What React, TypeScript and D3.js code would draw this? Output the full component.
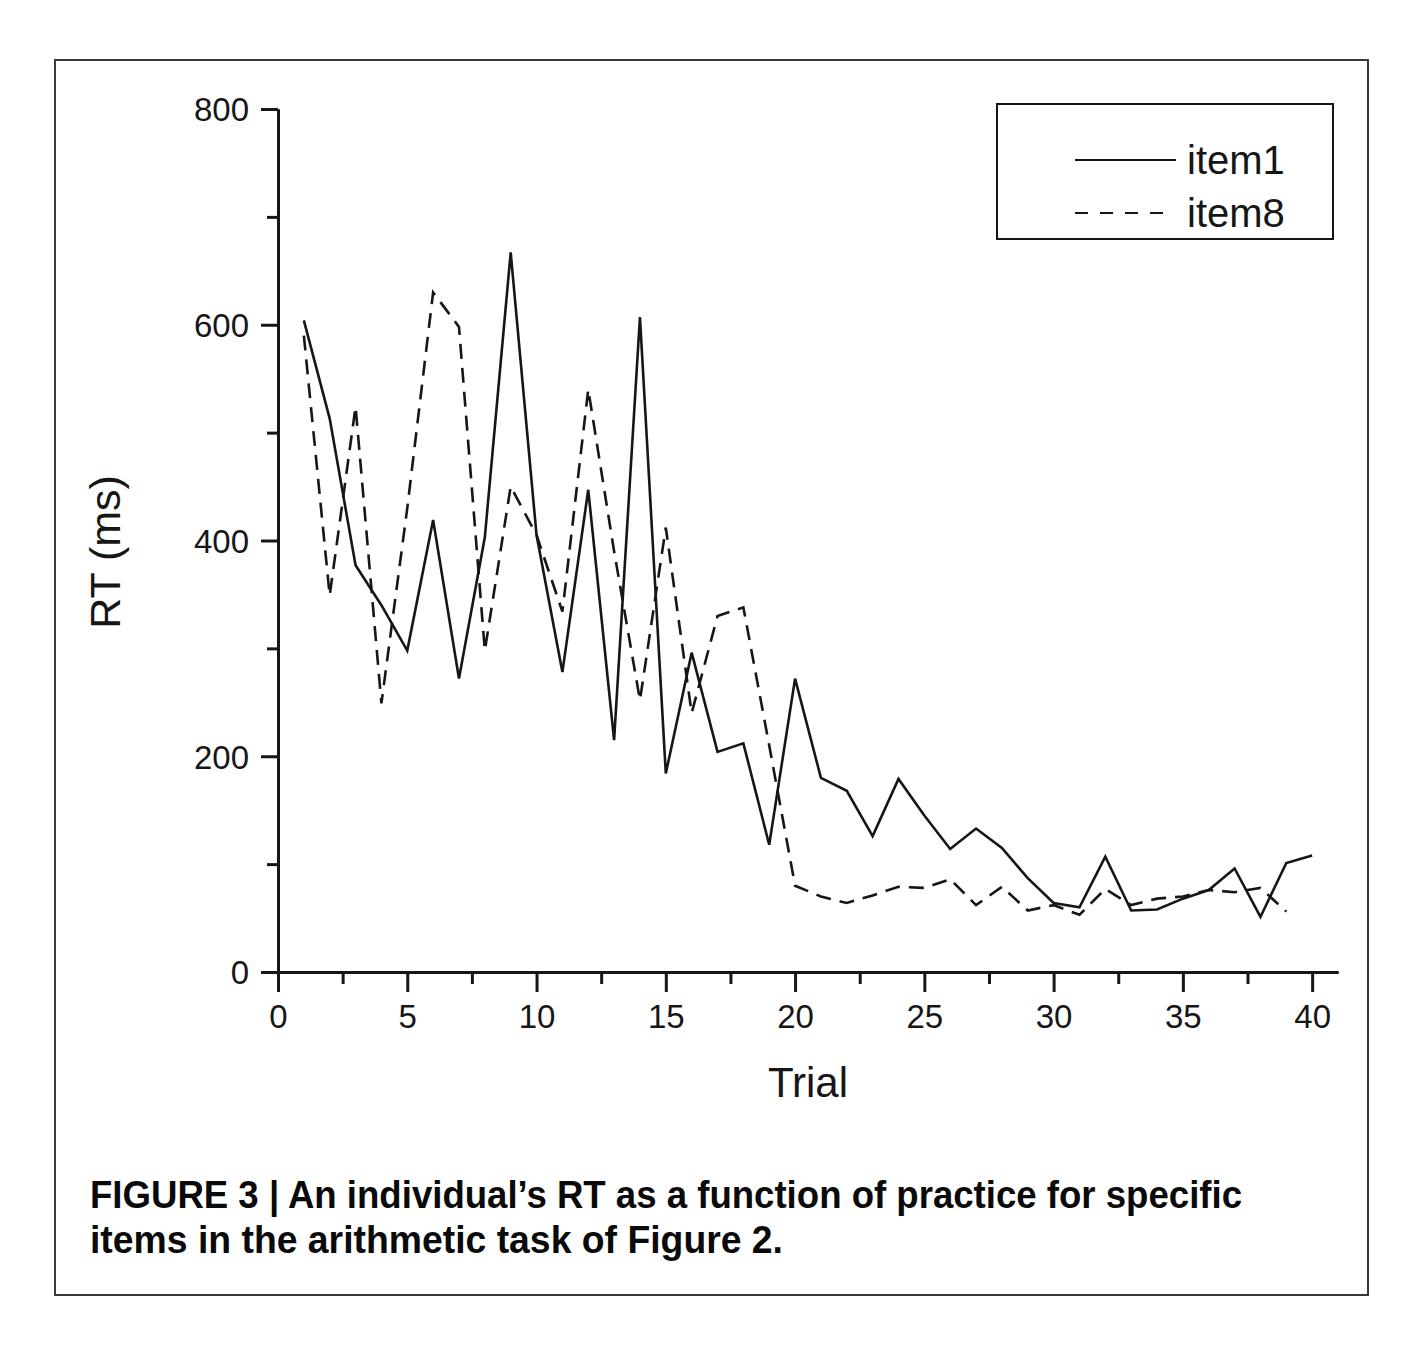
import React, { useEffect, useRef } from "react";
import * as d3 from "d3";

// RT (ms) per trial
const trials = d3.range(1, 41);
const item1 = [
  604, 513, 377, 340, 298, 419, 272, 403, 667, 405,
  278, 447, 215, 607, 184, 296, 204, 212, 118, 272,
  180, 168, 126, 179, 145, 114, 133, 115, 87, 64,
  60, 107, 57, 58, 68, 76, 96, 51, 101, 108,
];
const item8 = [
  590, 349, 524, 249, 430, 630, 598, 298, 450, 405,
  334, 540, 390, 252, 412, 240, 330, 338, 210, 80,
  70, 64, 71, 79, 78, 86, 62, 79, 57, 62,
  53, 77, 62, 68, 70, 76, 74, 78, 56,
];
const seriesNames = ["item1", "item8"];
const yMajor = [0, 200, 400, 600, 800];
const yMinor = [100, 300, 500, 700];
const xMajor = [0, 5, 10, 15, 20, 25, 30, 35, 40];
const xMinor = [2.5, 7.5, 12.5, 17.5, 22.5, 27.5, 32.5, 37.5];
const captionLines = [
  "FIGURE 3 | An individual\u2019s RT as a function of practice for specific",
  "items in the arithmetic task of Figure 2.",
];

const W = 1422;
const H = 1351;
const ink = "#161616";
const font = "'Liberation Sans', Arial, sans-serif";

const App = () => {
  const ref = useRef(null);

  const x = d3.scaleLinear().domain([0, 41]).range([278, 1338]);
  const y = d3.scaleLinear().domain([0, 800]).range([972, 109]);

  useEffect(() => {
    const g = d3.select(ref.current);
    g.selectAll("*").remove();

    const styleAxis = sel => {
      sel.select(".domain").attr("stroke", ink).attr("stroke-width", 3);
      sel.selectAll(".tick line").attr("stroke", ink).attr("stroke-width", 3);
      sel.selectAll(".tick text")
        .attr("fill", ink)
        .style("font-family", font)
        .style("font-size", "33px");
    };

    // minor ticks first so the major axis sits on top
    g.append("g")
      .attr("transform", `translate(${x(0)},0)`)
      .call(d3.axisLeft(y).tickValues(yMinor).tickSize(11).tickSizeOuter(0).tickFormat(() => ""))
      .call(styleAxis);
    g.append("g")
      .attr("transform", `translate(${x(0)},0)`)
      .call(d3.axisLeft(y).tickValues(yMajor).tickSize(17).tickSizeOuter(0).tickPadding(12))
      .call(styleAxis)
      .selectAll(".tick text")
      .attr("dy", "0.36em");

    g.append("g")
      .attr("transform", `translate(0,${y(0)})`)
      .call(d3.axisBottom(x).tickValues(xMinor).tickSize(12).tickSizeOuter(0).tickFormat(() => ""))
      .call(styleAxis);
    g.append("g")
      .attr("transform", `translate(0,${y(0)})`)
      .call(d3.axisBottom(x).tickValues(xMajor).tickSize(20).tickSizeOuter(0).tickPadding(13))
      .call(styleAxis);

    const line = d3.line()
      .x(d => x(d[0]))
      .y(d => y(d[1]));

    g.append("path")
      .datum(item1.map((v, i) => [trials[i], v]))
      .attr("d", line)
      .attr("fill", "none")
      .attr("stroke", ink)
      .attr("stroke-width", 2.6)
      .attr("stroke-linejoin", "miter");

    g.append("path")
      .datum(item8.map((v, i) => [trials[i], v]))
      .attr("d", line)
      .attr("fill", "none")
      .attr("stroke", ink)
      .attr("stroke-width", 2.6)
      .attr("stroke-dasharray", "15 9");
  }, []);

  return (
    <div style={{ position: "absolute", left: 0, top: 0 }}>
      <svg width={W} height={H} style={{ display: "block", background: "#fff" }}>
        <rect x={55} y={60} width={1313} height={1235} fill="none" stroke="#3a3a3a" strokeWidth={2} />
        <g ref={ref} />

        <text
          x={808}
          y={1097}
          textAnchor="middle"
          fill={ink}
          style={{ fontFamily: font, fontSize: "42px" }}
        >
          Trial
        </text>
        <text
          transform="translate(120,552) rotate(-90)"
          textAnchor="middle"
          fill={ink}
          style={{ fontFamily: font, fontSize: "43px" }}
        >
          RT (ms)
        </text>

        <g>
          <rect x={997} y={104} width={336} height={135} fill="#fff" stroke={ink} strokeWidth={2} />
          {seriesNames.map((name, i) => (
            <g key={name} transform={`translate(0,${160 + i * 53})`}>
              <line
                x1={1075}
                x2={i === 0 ? 1176 : 1163}
                y1={0}
                y2={0}
                stroke={ink}
                strokeWidth={2}
                strokeDasharray={i === 0 ? null : "13 12"}
              />
              <text
                x={1187}
                y={0}
                dy="0.35em"
                fill={ink}
                style={{ fontFamily: font, fontSize: "40px" }}
              >
                {name}
              </text>
            </g>
          ))}
        </g>

        {captionLines.map((t, i) => (
          <text
            key={i}
            x={90}
            y={1208 + i * 45}
            fill="#0a0a0a"
            textLength={i === 0 ? 1152 : 693}
            lengthAdjust="spacingAndGlyphs"
            style={{
              fontFamily: font,
              fontWeight: 700,
              fontSize: "39px",
            }}
          >
            {t}
          </text>
        ))}
      </svg>
    </div>
  );
};

export default App;
